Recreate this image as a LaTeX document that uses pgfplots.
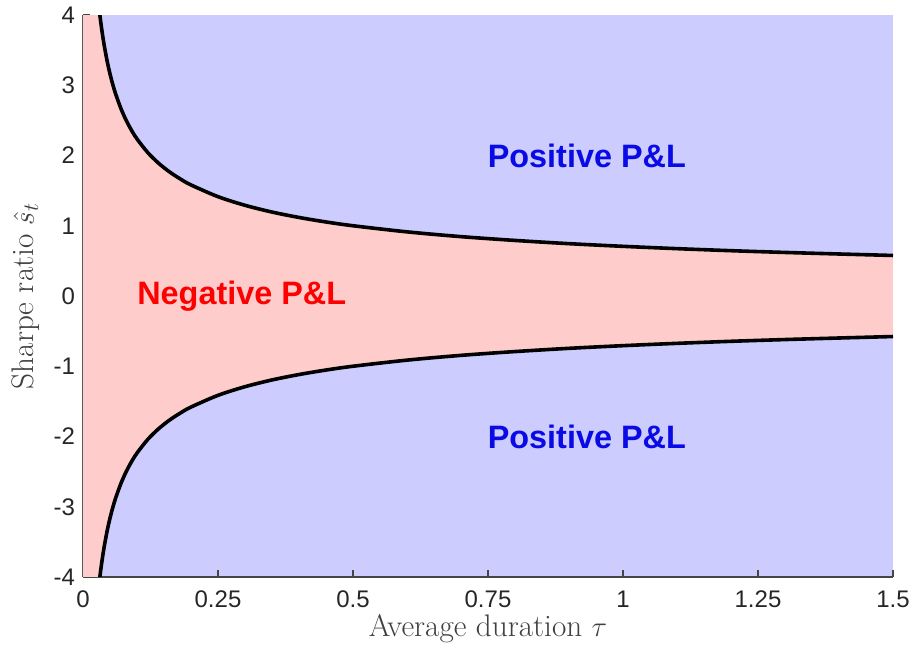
\documentclass[border=0pt]{standalone}
\usepackage{fontspec}
\usepackage{pgfplots}
\pgfplotsset{compat=1.18}
\newfontfamily\ticksfont{Liberation Sans}

\definecolor{posregion}{RGB}{204,204,255}
\definecolor{negregion}{RGB}{255,204,204}
\definecolor{axisgray}{RGB}{70,70,70}
\definecolor{posblue}{RGB}{10,10,230}

\begin{document}
\begin{tikzpicture}
\begin{axis}[
  scale only axis,
  width=405pt, height=281pt,
  xmin=0, xmax=1.5, ymin=-4, ymax=4,
  axis x line*=bottom, axis y line*=left,
  axis line style={axisgray, line width=0.6pt},
  axis background/.style={fill=posregion},
  tick align=inside,
  major tick length=3.6pt,
  tick style={axisgray, line width=0.6pt},
  xtick={0,0.25,0.5,0.75,1,1.25,1.5},
  xticklabels={0,0.25,0.5,0.75,1,1.25,1.5},
  ytick={-4,-3,-2,-1,0,1,2,3,4},
  yticklabels={-4,-3,-2,-1,0,1,2,3,4},
  ticklabel style={font=\ticksfont\fontsize{12}{14}\selectfont, text=black!85},
  xticklabel style={yshift=-3.5pt},
  yticklabel style={xshift=-0.5pt},
  xlabel={Average duration $\tau$},
  ylabel={Sharpe ratio $\hat{s}_t$},
  label style={font=\fontsize{15.6}{18}\selectfont, text=black!75},
  xlabel style={yshift=3.5pt},
  ylabel style={yshift=0pt},
  clip=true,
]
% region where the P&L is negative: |s| below the break-even curve
\addplot[fill=negregion, draw=none] coordinates {
  (0,4) (0.03125,4) (0.0325,3.922) (0.035,3.780) (0.0375,3.651) (0.04,3.536)
  (0.045,3.333) (0.05,3.162) (0.055,3.015) (0.06,2.887) (0.07,2.673) (0.08,2.5)
  (0.09,2.357) (0.1,2.236) (0.12,2.041) (0.14,1.890) (0.16,1.768) (0.18,1.667)
  (0.2,1.581) (0.25,1.414) (0.3,1.291) (0.35,1.195) (0.4,1.118) (0.45,1.054)
  (0.5,1.0) (0.6,0.913) (0.7,0.845) (0.8,0.791) (0.9,0.745) (1.0,0.707)
  (1.1,0.674) (1.2,0.645) (1.3,0.620) (1.4,0.598) (1.5,0.577)
  (1.5,-0.577) (1.4,-0.598) (1.3,-0.620) (1.2,-0.645) (1.1,-0.674) (1.0,-0.707)
  (0.9,-0.745) (0.8,-0.791) (0.7,-0.845) (0.6,-0.913) (0.5,-1.0) (0.45,-1.054)
  (0.4,-1.118) (0.35,-1.195) (0.3,-1.291) (0.25,-1.414) (0.2,-1.581)
  (0.18,-1.667) (0.16,-1.768) (0.14,-1.890) (0.12,-2.041) (0.1,-2.236)
  (0.09,-2.357) (0.08,-2.5) (0.07,-2.673) (0.06,-2.887) (0.055,-3.015)
  (0.05,-3.162) (0.045,-3.333) (0.04,-3.536) (0.0375,-3.651) (0.035,-3.780)
  (0.0325,-3.922) (0.03125,-4) (0,-4)
} -- cycle;

% break-even curves
\addplot[black, line width=1.8pt, smooth] coordinates {
  (0.03125,4) (0.0325,3.922) (0.035,3.780) (0.0375,3.651) (0.04,3.536)
  (0.045,3.333) (0.05,3.162) (0.055,3.015) (0.06,2.887) (0.07,2.673) (0.08,2.5)
  (0.09,2.357) (0.1,2.236) (0.12,2.041) (0.14,1.890) (0.16,1.768) (0.18,1.667)
  (0.2,1.581) (0.25,1.414) (0.3,1.291) (0.35,1.195) (0.4,1.118) (0.45,1.054)
  (0.5,1.0) (0.6,0.913) (0.7,0.845) (0.8,0.791) (0.9,0.745) (1.0,0.707)
  (1.1,0.674) (1.2,0.645) (1.3,0.620) (1.4,0.598) (1.5,0.577)
};
\addplot[black, line width=1.8pt, smooth] coordinates {
  (0.03125,-4) (0.0325,-3.922) (0.035,-3.780) (0.0375,-3.651) (0.04,-3.536)
  (0.045,-3.333) (0.05,-3.162) (0.055,-3.015) (0.06,-2.887) (0.07,-2.673) (0.08,-2.5)
  (0.09,-2.357) (0.1,-2.236) (0.12,-2.041) (0.14,-1.890) (0.16,-1.768) (0.18,-1.667)
  (0.2,-1.581) (0.25,-1.414) (0.3,-1.291) (0.35,-1.195) (0.4,-1.118) (0.45,-1.054)
  (0.5,-1.0) (0.6,-0.913) (0.7,-0.845) (0.8,-0.791) (0.9,-0.745) (1.0,-0.707)
  (1.1,-0.674) (1.2,-0.645) (1.3,-0.620) (1.4,-0.598) (1.5,-0.577)
};

\node[font=\ticksfont\bfseries\fontsize{16.2}{19}\selectfont, text=posblue] at (axis cs:0.933,2) {Positive P\&L};
\node[font=\ticksfont\bfseries\fontsize{16.2}{19}\selectfont, text=posblue] at (axis cs:0.933,-2) {Positive P\&L};
\node[font=\ticksfont\bfseries\fontsize{16.2}{19}\selectfont, text=red] at (axis cs:0.294,0) {Negative P\&L};
\end{axis}
\pgfresetboundingbox
\path[use as bounding box] ([shift={(-41.5pt,-35pt)}]current axis.south west) rectangle ([shift={(12pt,7.5pt)}]current axis.north east);
\end{tikzpicture}
\end{document}
